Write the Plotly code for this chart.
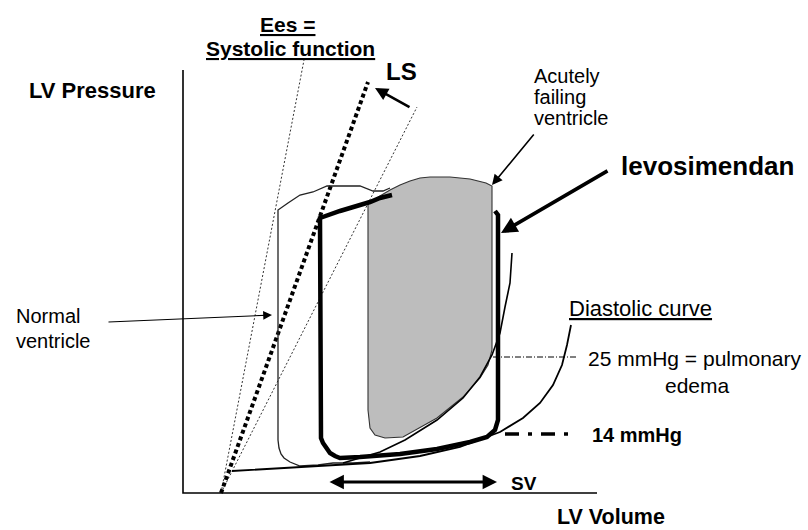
import plotly.graph_objects as go

# ---------------- data (schematic LV volume / LV pressure units) ----------------
# Axes (origin at 0,0)
yaxis_top = 423
xaxis_end = 414

# End-systolic pressure-volume relations (Ees), all from the volume intercept
ees_origin = (38, 0)
ees_normal_top = (121, 433)      # thin dotted, steepest
ees_ls_top = (185, 411)          # thick dotted, levosimendan
ees_failing_top = (234, 386)     # thin dotted, failing ventricle

# Normal ventricle loop (thin line)
normal_v = [207, 200, 190, 177, 160, 144, 130, 117, 105, 95, 95, 96, 98, 101, 107, 117, 135, 150, 170, 187]
normal_p = [305, 302, 302, 307, 307, 307, 301, 298, 290, 283, 53, 45, 39, 35, 31, 27, 28, 30, 30, 31]

# Normal end-diastolic curve ("Diastolic curve")
edpvr_v = [49, 117, 187, 237, 277, 317, 340, 357, 370, 379, 384, 388]
edpvr_p = [22, 26, 30, 37, 46, 61, 75, 90, 108, 128, 148, 168]

# Acutely failing ventricle diastolic curve
fail_dias_v = [160, 197, 222, 254, 280, 297, 309, 317, 322, 327, 329]
fail_dias_p = [30, 41, 53, 73, 95, 116, 138, 160, 186, 210, 240]

# Acutely failing ventricle loop (grey filled)
fail_loop_v = [185, 191, 197, 207, 217, 227, 237, 247, 257, 267, 277, 287, 295, 303, 309,
               309, 305, 297, 280, 254, 220, 202, 192, 187, 185, 185]
fail_loop_p = [290, 293, 297, 303, 308, 312, 315, 316, 316, 316, 315, 314, 312, 310, 307,
               143, 128, 115, 96, 75, 56, 55, 58, 65, 83, 290]

# Levosimendan loop (thick line)
levo_v = [209, 197, 187, 172, 157, 137, 137, 138, 140, 143, 147, 152, 157, 177, 217, 254, 287, 304, 312, 315, 315, 312]
levo_p = [298, 295, 291, 287, 282, 275, 60, 55, 50, 45, 40, 37, 35, 36, 39, 44, 51, 56, 63, 73, 278, 282]

# Reference pressures
p_edema = 136        # 25 mmHg
p_14 = 59            # 14 mmHg
edema_line_v = [310, 394]
line14_v = [322, 389]

# Stroke volume arrow
sv_v = [145, 314]
sv_p = 11

FONT = "Liberation Sans, Arial, sans-serif"


def V(xpx):
    return xpx - 183


def P(ypx):
    return 493 - ypx


fig = go.Figure()

# axes
fig.add_trace(go.Scatter(x=[0, 0, xaxis_end], y=[yaxis_top, 0, 0], mode="lines",
                         line=dict(color="black", width=1.6), hoverinfo="skip"))

# grey failing loop
fig.add_trace(go.Scatter(x=fail_loop_v, y=fail_loop_p, mode="lines", fill="toself",
                         fillcolor="#bdbdbd", line=dict(color="#333333", width=1.1),
                         hoverinfo="skip"))

# Ees lines
fig.add_trace(go.Scatter(x=[ees_origin[0], ees_normal_top[0]], y=[ees_origin[1], ees_normal_top[1]],
                         mode="lines", line=dict(color="#333333", width=1, dash="2px,2px"),
                         hoverinfo="skip"))
fig.add_trace(go.Scatter(x=[ees_origin[0], ees_failing_top[0]], y=[ees_origin[1], ees_failing_top[1]],
                         mode="lines", line=dict(color="#333333", width=1, dash="2px,2px"),
                         hoverinfo="skip"))
fig.add_trace(go.Scatter(x=[ees_origin[0], ees_ls_top[0]], y=[ees_origin[1], ees_ls_top[1]],
                         mode="lines", line=dict(color="black", width=4, dash="4px,3px"),
                         hoverinfo="skip"))

# normal loop
fig.add_trace(go.Scatter(x=normal_v, y=normal_p, mode="lines",
                         line=dict(color="#222222", width=1.3), hoverinfo="skip"))
# diastolic curves
fig.add_trace(go.Scatter(x=edpvr_v, y=edpvr_p, mode="lines",
                         line=dict(color="black", width=1.8), hoverinfo="skip"))
fig.add_trace(go.Scatter(x=fail_dias_v, y=fail_dias_p, mode="lines",
                         line=dict(color="black", width=1.6), hoverinfo="skip"))
# levosimendan loop
fig.add_trace(go.Scatter(x=levo_v, y=levo_p, mode="lines",
                         line=dict(color="black", width=4.5), hoverinfo="skip"))

# reference pressure lines
fig.add_trace(go.Scatter(x=edema_line_v, y=[p_edema, p_edema], mode="lines",
                         line=dict(color="black", width=1, dash="6px,2px,1px,2px"), hoverinfo="skip"))
fig.add_trace(go.Scatter(x=line14_v, y=[p_14, p_14], mode="lines",
                         line=dict(color="black", width=3.5, dash="14px,9px,4px,9px"), hoverinfo="skip"))

ann = []


def arrow(head, tail, width, size=1.0, side="end"):
    ann.append(dict(x=head[0], y=head[1], ax=tail[0], ay=tail[1], xref="x", yref="y",
                    axref="x", ayref="y", text="", showarrow=True, arrowhead=2,
                    arrowsize=size, arrowwidth=width, arrowcolor="black", arrowside=side,
                    standoff=0, startstandoff=0))


def label(text, xpx, ypx, size, bold=False, anchor="left"):
    t = f"<b>{text}</b>" if bold else text
    ann.append(dict(x=V(xpx), y=P(ypx), xref="x", yref="y", text=t, showarrow=False,
                    xanchor=anchor, yanchor="middle",
                    font=dict(family=FONT, size=size, color="black")))


# arrows
arrow((V(375), P(88)), (V(411), P(108)), 2.6, 1.0)                  # LS
arrow((V(492), P(185)), (V(535), P(133)), 1.6, 1.3)                 # acutely failing
arrow((V(501), P(233)), (V(609), P(170)), 3.6, 0.9)                 # levosimendan
arrow((V(272), P(315)), (V(107), P(322)), 1.1, 1.6)                 # normal ventricle
ann.append(dict(x=sv_v[1], y=sv_p, ax=sv_v[0], ay=sv_p, xref="x", yref="y", axref="x", ayref="y",
                text="", showarrow=True, arrowhead=2, startarrowhead=2, arrowsize=0.9,
                startarrowsize=0.9, arrowwidth=3.2, arrowcolor="black", arrowside="end+start",
                standoff=0, startstandoff=0))

# labels
label("LV Pressure", 27, 90, 22, bold=True)
label("<u>Ees =</u>", 287, 24, 21, bold=True, anchor="center")
label("<u>Systolic function</u>", 290, 48, 21, bold=True, anchor="center")
label("LS", 384, 71, 24, bold=True)
label("Acutely", 532, 76, 20)
label("failing", 532, 97, 20)
label("ventricle", 532, 118, 20)
label("levosimendan", 619, 166, 26, bold=True)
label("Normal", 14, 316, 20)
label("ventricle", 14, 341, 20)
label("<u>Diastolic curve</u>", 567, 308, 22)
label("25 mmHg = pulmonary", 695, 358, 21, anchor="center")
label("edema", 697, 385, 21, anchor="center")
label("14 mmHg", 590, 435, 20, bold=True)
label("SV", 509, 483, 19, bold=True)
label("LV Volume", 555, 517, 21.5, bold=True)

fig.update_layout(
    width=808, height=530,
    margin=dict(l=0, r=0, t=0, b=0),
    paper_bgcolor="white", plot_bgcolor="white",
    showlegend=False,
    xaxis=dict(range=[-183, 625], visible=False, fixedrange=True),
    yaxis=dict(range=[-37, 493], visible=False, fixedrange=True),
    annotations=ann,
)

fig.write_html("out.html", config={"displayModeBar": False},
               post_script="document.body.style.margin='0';document.body.style.overflow='hidden';")
